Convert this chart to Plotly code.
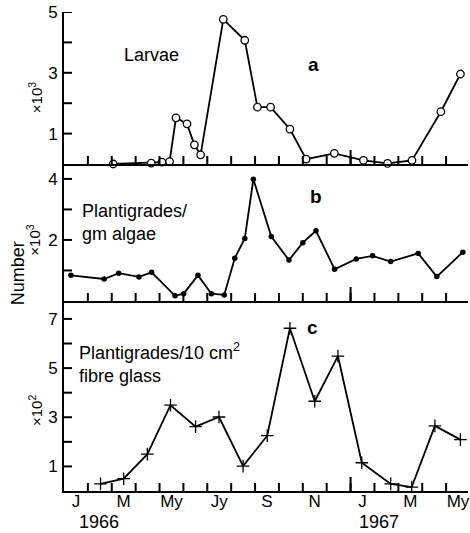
import plotly.graph_objects as go

# ---- data (x = months since 1 Jan 1966) ----
larvae_x = [2.06, 3.65, 4.10, 4.42, 4.69, 5.15, 5.46, 5.72, 6.67, 7.57, 8.10, 8.65,
            9.46, 10.14, 11.32, 12.54, 13.55, 14.57, 15.78, 16.60]
larvae_y = [0.0, 0.03, 0.06, 0.08, 1.52, 1.32, 0.63, 0.30, 4.76, 4.07, 1.87, 1.87,
            1.15, 0.16, 0.35, 0.12, 0.02, 0.12, 1.72, 2.96]

algae_x = [0.29, 1.68, 2.29, 3.14, 3.67, 4.65, 5.01, 5.61, 6.17, 6.71, 7.15, 7.57,
           7.93, 8.68, 9.42, 10.0, 10.55, 11.33, 12.24, 12.92, 13.68, 14.83, 15.61, 16.70]
algae_y = [0.84, 0.72, 0.91, 0.79, 0.94, 0.17, 0.24, 0.84, 0.24, 0.20, 1.40, 2.05,
           3.99, 2.11, 1.34, 1.91, 2.30, 1.04, 1.38, 1.48, 1.29, 1.56, 0.80, 1.60]

glass_x = [1.53, 2.50, 3.49, 4.46, 5.51, 6.49, 7.50, 8.51, 9.46, 10.50, 11.47, 12.47,
           13.68, 14.56, 15.53, 16.60]
glass_y = [0.29, 0.50, 1.50, 3.49, 2.62, 3.01, 1.01, 2.25, 6.62, 3.65, 5.49, 1.15,
           0.29, 0.16, 2.65, 2.09]

month_labels = ["J", "M", "My", "Jy", "S", "N", "J", "M", "My"]
month_label_pos = [0.5, 2.5, 4.5, 6.5, 8.5, 10.5, 12.5, 14.5, 16.5]
month_bounds = list(range(1, 17))
year_labels = ["1966", "1967"]
year_label_pos = [0.54, 12.25]
year_break = 12

ya_ticks = [1, 2, 3, 4, 5]
ya_text = ["1", "", "3", "", "5"]
yb_ticks = [1, 2, 3, 4]
yb_text = ["", "2", "", "4"]
yc_ticks = [1, 2, 3, 4, 5, 6, 7]
yc_text = ["1", "", "3", "", "5", "", "7"]

FONT = "Liberation Sans"
X_RANGE = [0, 16.917]

fig = go.Figure()

line = dict(color="black", width=1.8)
fig.add_trace(go.Scatter(x=larvae_x, y=larvae_y, mode="lines+markers", xaxis="x", yaxis="y",
                         line=line, cliponaxis=False,
                         marker=dict(symbol="circle", size=7.5, color="white",
                                     line=dict(color="black", width=1.3))))
fig.add_trace(go.Scatter(x=algae_x, y=algae_y, mode="lines+markers", xaxis="x2", yaxis="y2",
                         line=line, cliponaxis=False,
                         marker=dict(symbol="circle", size=5.5, color="black")))
fig.add_trace(go.Scatter(x=glass_x, y=glass_y, mode="lines+markers", xaxis="x3", yaxis="y3",
                         line=line, cliponaxis=False,
                         marker=dict(symbol="cross-thin", size=9,
                                     line=dict(color="black", width=1.3))))

dom_c = [0, 0.3967]
dom_b = [0.3967, 0.6827]
dom_a = [0.6827, 1.0]

def xax(anchor):
    return dict(range=X_RANGE, anchor=anchor, domain=[0, 1], showline=True, linecolor="black",
                linewidth=2, showgrid=False, zeroline=False, fixedrange=True,
                tickmode="array", tickvals=month_bounds, ticks="", showticklabels=False)

def yax(anchor, domain, rng, tv, tt):
    return dict(anchor=anchor, domain=domain, range=rng, showline=True, linecolor="black",
                linewidth=2, showgrid=False, zeroline=False, tickmode="array", tickvals=tv,
                ticktext=tt, ticks="", ticklabelstandoff=1,
                tickfont=dict(family=FONT, size=17, color="black"), fixedrange=True)

fig.update_layout(
    width=470, height=533,
    margin=dict(l=64, r=0, t=12, b=42),
    paper_bgcolor="white", plot_bgcolor="rgba(0,0,0,0)",
    showlegend=False,
    font=dict(family=FONT, size=18, color="black"),
    xaxis=xax("y"), xaxis2=xax("y2"), xaxis3=xax("y3"),
    # label-only axis overlaying the bottom panel: month names centred in each month
    xaxis4=dict(range=X_RANGE, overlaying="x3", anchor="y3", side="bottom", showline=False,
                showgrid=False, zeroline=False, fixedrange=True, tickmode="array",
                tickvals=month_label_pos, ticktext=month_labels, ticks="",
                ticklabelstandoff=-2, ticklabeloverflow="allow",
                tickfont=dict(family=FONT, size=17, color="black")),
    yaxis=yax("x", dom_a, [0, 5], ya_ticks, ya_text),
    yaxis2=yax("x2", dom_b, [0, 4.49], yb_ticks, yb_text),
    yaxis3=yax("x3", dom_c, [0, 7.73], yc_ticks, yc_text),
)
fig.add_trace(go.Scatter(x=[month_label_pos[0]], y=[0], xaxis="x4", yaxis="y3",
                         mode="markers", marker=dict(opacity=0), hoverinfo="skip"))

tick_line = dict(color="black", width=2)
panels = [("x", "y", ya_ticks), ("x2", "y2", yb_ticks), ("x3", "y3", yc_ticks)]
for xr, yr, yt in panels:
    # inside month ticks on each time axis
    for m in month_bounds:
        fig.add_shape(type="line", xref=xr, yref=yr, x0=m, x1=m,
                      ysizemode="pixel", yanchor=0, y0=0, y1=8, line=tick_line)
    # inside value ticks on each y axis
    for v in yt:
        fig.add_shape(type="line", xref=xr, yref=yr, y0=v, y1=v,
                      xsizemode="pixel", xanchor=X_RANGE[0], x0=0, x1=8, line=tick_line)
    # year-break tick crossing the time axis
    fig.add_shape(type="line", xref=xr, yref=yr, x0=year_break, x1=year_break,
                  ysizemode="pixel", yanchor=0, y0=-14, y1=14,
                  line=dict(color="black", width=2))

ann = []
def A(text, x, y, xref, yref, **kw):
    d = dict(text=text, x=x, y=y, xref=xref, yref=yref, showarrow=False,
             font=dict(family=FONT, size=kw.pop("size", 18), color="black"))
    d.update(kw)
    ann.append(d)

A("Larvae", 3.67, 3.59, "x", "y")
A("<b>a</b>", 10.46, 3.26, "x", "y", size=19)
A("<b>b</b>", 10.54, 3.41, "x2", "y2", size=19)
A("<b>c</b>", 10.42, 6.67, "x3", "y3", size=19)
A("Plantigrades/<br>gm algae", 0.67, 2.57, "x2", "y2", xanchor="left", align="left")
A("Plantigrades/10 cm<sup>2</sup><br>fibre glass", 0.54, 5.22, "x3", "y3",
  xanchor="left", align="left")
rot = dict(textangle=-90, xanchor="center", yanchor="middle")
A("×10<sup>3</sup>", -0.0714, 2.17, "paper", "y", size=15, **rot)
A("×10<sup>3</sup>", -0.075, 2.0, "paper", "y2", size=15, **rot)
A("Number", -0.113, 0.92, "paper", "y2", size=18, **rot)
A("×10<sup>2</sup>", -0.072, 3.29, "paper", "y3", size=15, **rot)
for t, p in zip(year_labels, year_label_pos):
    A(t, p, -0.0647, "x3", "paper", xanchor="left", yanchor="middle")

fig.update_layout(annotations=ann)
fig.write_html("out.html")
